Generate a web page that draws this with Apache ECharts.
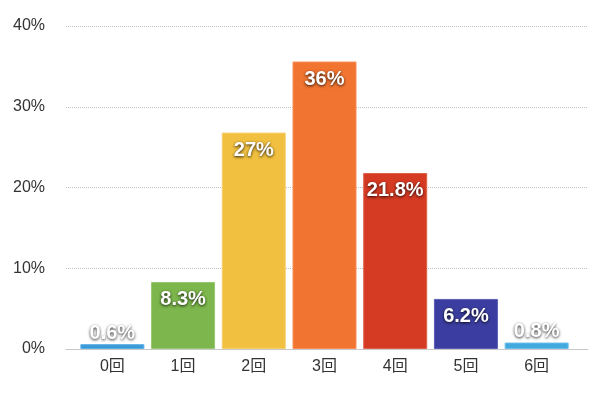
<!DOCTYPE html>
<html><head><meta charset="utf-8">
<script src="https://cdn.jsdelivr.net/npm/echarts@6/dist/echarts.min.js"></script>
<style>html,body{margin:0;padding:0;background:#fff}#c{width:600px;height:398px}</style>
</head><body><div id="c"></div>
<script>
const categories = ['0回','1回','2回','3回','4回','5回','6回'];
const values = [0.6, 8.3, 26.8, 35.6, 21.8, 6.2, 0.8];
const labels = ['0.6%','8.3%','27%','36%','21.8%','6.2%','0.8%'];
const colors = ['#3a9ad8','#7cb64c','#f1c040','#f17431','#d53a23','#3b3ea0','#42a9de'];
const borders = ['#5cb0e6','#98c873','#f6d06e','#f79058','#e0624c','#5a5db5','#6cc0ea'];
const yTicks = [0,10,20,30,40];

const font = "'Liberation Sans','Noto Sans CJK JP',sans-serif";
const chart = echarts.init(document.getElementById('c'), null, {renderer:'canvas'});
chart.setOption({
  animation:false,
  grid:[
    {left:66,right:12,top:26,bottom:49},
    {left:77,right:28,top:26,bottom:49}
  ],
  xAxis:[
    {gridIndex:0,type:'value',min:0,max:1,show:true,axisLabel:{show:false},axisTick:{show:false},splitLine:{show:false},
     axisLine:{show:true,onZero:false,lineStyle:{color:'#c8c8c8',width:1}}},
    {gridIndex:1,type:'category',data:categories,axisLine:{show:false},axisTick:{show:false},
     axisLabel:{color:'#333',fontSize:16,fontFamily:font,margin:10}}
  ],
  yAxis:[
    {gridIndex:0,type:'value',min:0,max:40,interval:10,
     axisLabel:{formatter:v=>v+'%',color:'#333',fontSize:16,fontFamily:font,margin:21},
     axisLine:{show:false},axisTick:{show:false},
     splitLine:{show:true,lineStyle:{color:'#c0c0c0',type:'dotted',width:1},showMinLine:false}},
    {gridIndex:1,type:'value',min:0,max:40,interval:10,show:false,splitLine:{show:false}}
  ],
  series:[{
    type:'bar',xAxisIndex:1,yAxisIndex:1,barWidth:64,
    data:values.map((v,i)=>({
      value:v,
      itemStyle:{color:colors[i],borderColor:borders[i],borderWidth:1},
      label:{position: v<3 ? 'top' : 'insideTop', distance: v<3 ? 1 : 8}
    })),
    label:{show:true,formatter:p=>labels[p.dataIndex],color:'#fff',fontSize:20,fontWeight:'bold',fontFamily:font,
      textShadowColor:'rgba(0,0,0,0.85)',textShadowBlur:3,textShadowOffsetX:0,textShadowOffsetY:1}
  }]
});
</script></body></html>
